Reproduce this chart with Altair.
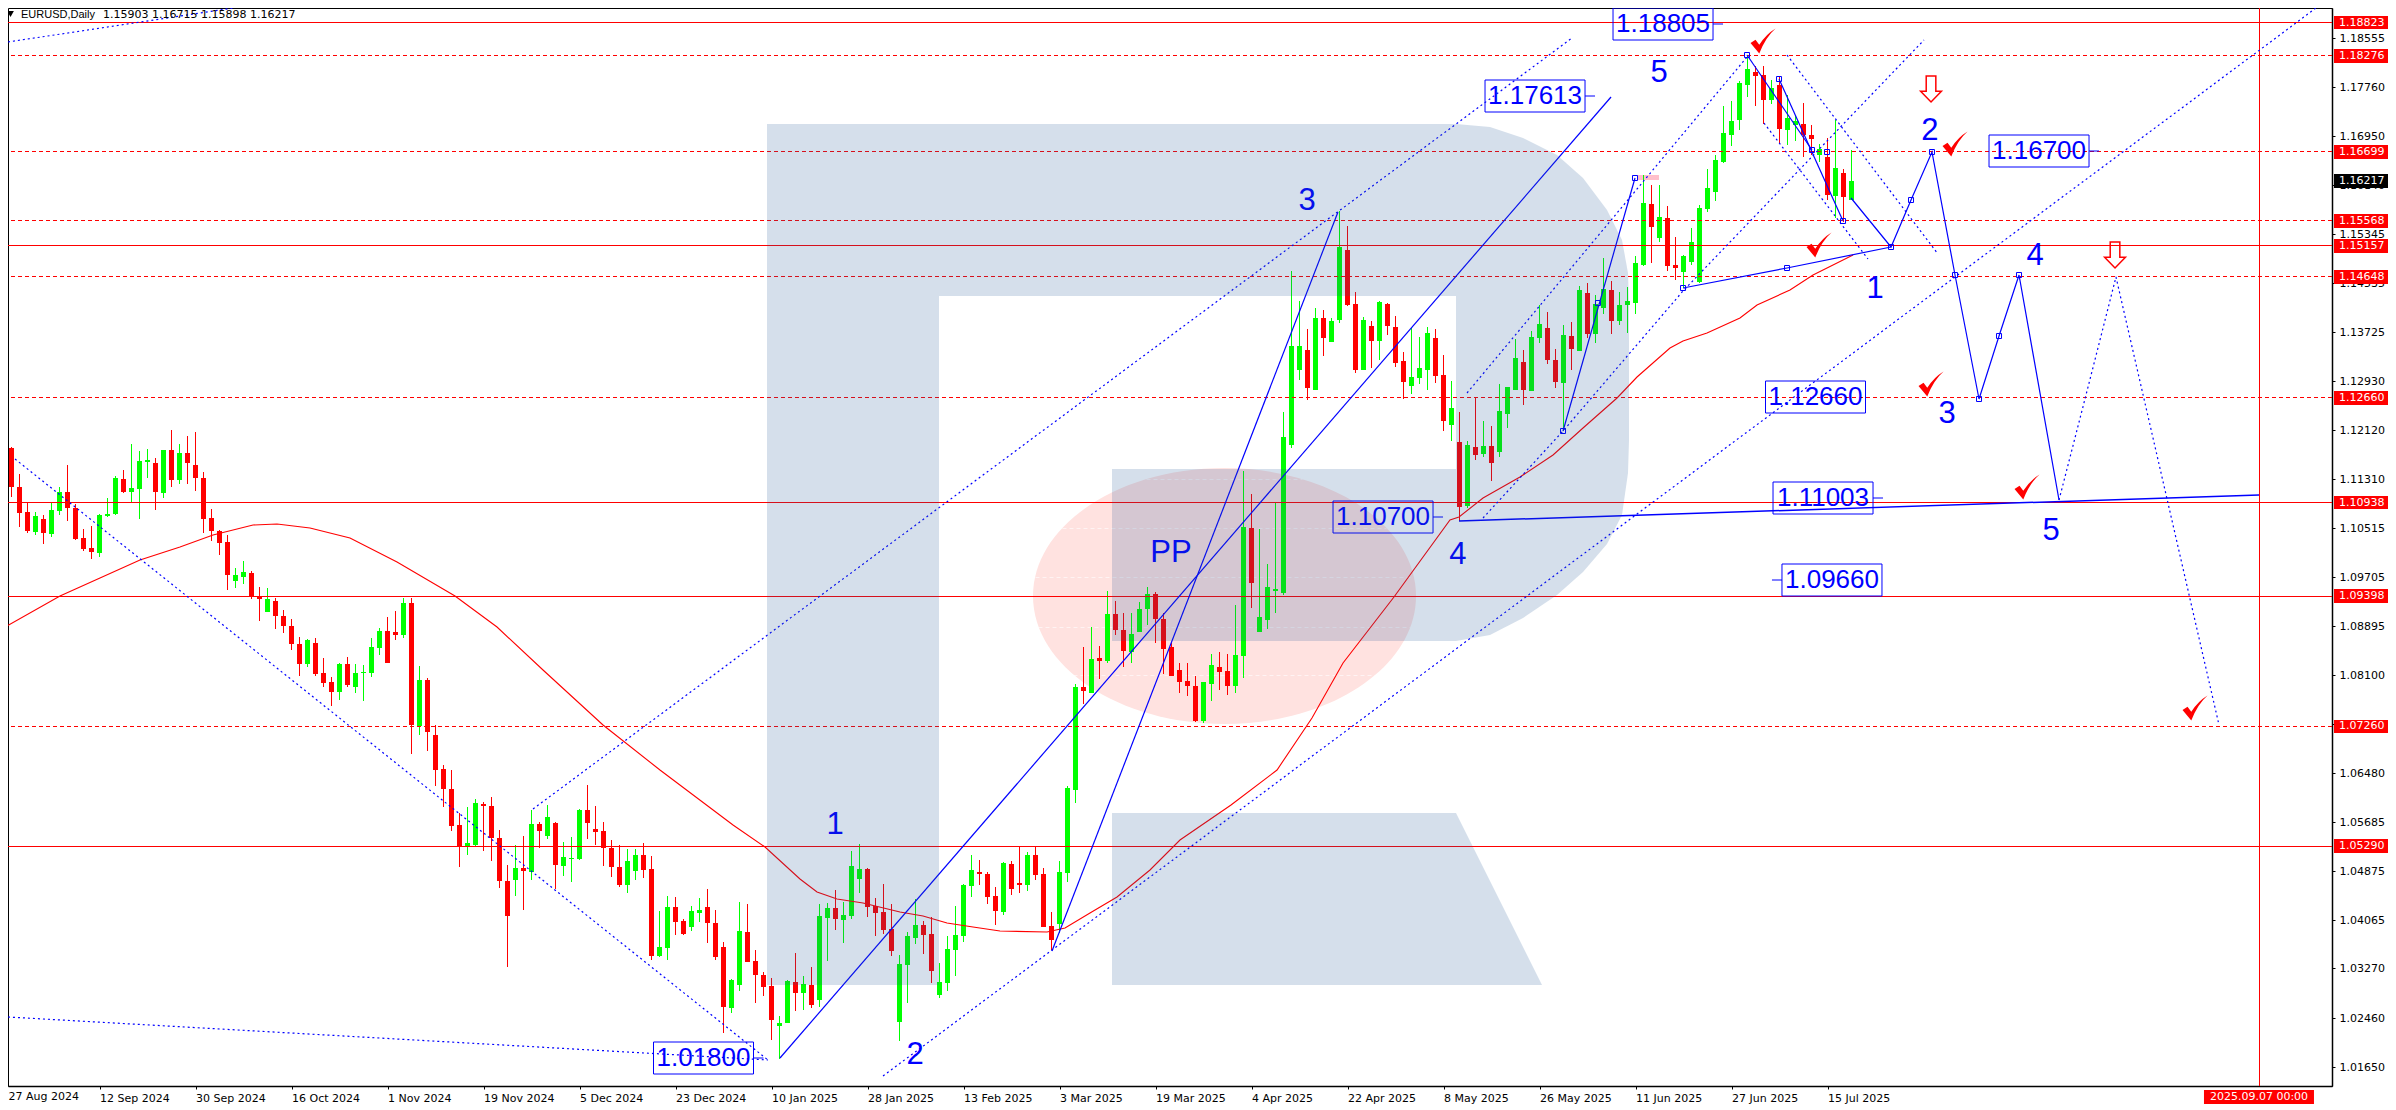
import altair as alt
import pandas as pd

# ---- candles, prices in 1/100000 ----
highs = [111899,111844,111395,110924,110765,110721,110935,111176,111543,110902,
110491,110541,110738,111001,111362,111461,111888,111767,111806,111658,
111789,112118,111888,112019,112085,111428,110820,110475,110393,109851,
109966,109801,109538,109522,109358,109160,109013,108717,108684,108700,
108372,108060,108290,108388,108273,108257,108700,108865,109045,109144,
109358,109358,108240,108043,107271,106614,106531,105825,105923,106055,
106006,106088,105546,104970,105299,105447,105874,105677,105956,105677,
105348,105431,105891,106285,105940,105677,105381,105299,105233,105233,
105332,105118,104215,104461,104445,104083,104297,104428,104576,104231,
103705,103097,104362,104330,103574,103212,103114,102489,103081,103525,
103146,103294,104329,104346,104559,104362,105200,105315,104921,104428,
104658,104329,103491,103869,104411,104050,104116,103360,103803,104296,
104658,105134,105052,104855,104608,105019,105036,105266,105184,105266,
104921,104198,105036,106268,107944,108552,108881,108569,109472,109308,
109111,109111,109292,109538,109456,109111,108618,108289,108289,108076,
107977,108437,108470,108437,109242,111444,111066,110491,109916,110935,
112413,114730,114237,113777,114122,114089,113958,115716,115470,114385,
113974,113909,114237,114204,113991,113399,113794,113646,113810,113777,
113350,112923,112413,111937,112660,112266,112183,112873,112824,113613,
113432,113744,114172,114057,113449,113843,113892,114484,114533,114336,
114944,114566,114385,114467,114977,116308,116143,116143,115798,115289,
114993,115437,115815,116406,116636,117441,117523,117852,118279,118099,
118099,117869,117918,117622,117293,117491,117129,116817,116916,117211,
116406,116715]

lows = [111488,111023,110530,110420,110398,110250,110365,110727,110628,110311,
110135,110004,110037,110683,110727,111083,110935,110661,111329,110804,
111001,111187,111231,111231,111116,110426,110294,110064,109489,109522,
109588,109341,108980,109128,108848,108782,108503,108076,108224,108076,
107895,107583,107682,107895,107797,107665,108060,108421,108290,108668,
108700,106794,107107,106844,106268,105923,105529,104938,105135,105272,
105201,105036,104593,103295,104461,104231,104724,105250,105398,104576,
104790,104691,105053,105398,105299,104954,104773,104609,104510,104724,
104757,103410,103459,103410,103820,103820,103886,104034,103689,103410,
102210,102539,102900,103377,102703,102818,102095,101783,102374,102571,
102587,102620,102637,103393,103902,103688,104083,104510,104116,103803,
103836,103475,102078,102702,103672,103508,103031,102785,102900,103146,
103705,104444,104641,104329,103984,104148,104477,104510,104543,104724,
103951,103573,103853,104691,105989,107616,108026,108026,108289,108749,
108224,108289,108799,108914,108618,108108,108076,107796,107747,107320,
107303,107665,107846,107763,107796,108042,109193,108799,108848,109111,
109407,111822,112939,112611,112775,113334,113564,113876,114155,113054,
113104,113136,113268,113679,113153,112627,112709,112873,112775,112890,
112101,111937,110622,110836,111625,111674,111280,111674,112151,112775,
112528,112758,113547,113202,112808,112101,113104,113416,113629,113547,
114024,113695,113843,113711,114024,114812,114862,115207,114730,114582,
114451,114829,114533,115700,115880,116505,116784,117047,117589,117441,
117146,117474,116833,116801,116866,116603,116636,116521,115897,115601,
115535,115898]

opens = [111581,111822,111176,110765,110448,110656,110415,110793,111099,110842,
110343,110179,110097,110705,110743,111313,111099,111154,111598,111576,
111083,111789,111296,111740,111543,111329,110672,110458,110278,109637,
109703,109768,109390,109128,109308,109062,108898,108602,108273,108618,
108125,107977,107813,108273,107895,108125,108125,108536,108815,108799,
108750,109270,107254,108010,107107,106548,106219,105628,105272,105299,
105973,105940,105414,104708,104724,104921,104855,105644,105447,105661,
104954,105069,105069,105874,105562,105529,105250,104938,104642,104872,
105135,104905,103475,103607,104280,104050,103952,104182,104280,104018,
103623,102621,103000,103870,103393,103163,102982,102325,102374,103048,
102867,102998,102752,104099,104263,104066,104132,104740,104904,104296,
104198,103918,102390,103327,103771,103984,103836,102834,103031,103573,
103803,104625,104855,104822,104461,104198,104986,104674,104641,105134,
104822,103968,104001,104839,106203,107895,107796,108371,108322,109094,
108831,108470,108799,109177,109423,109012,108552,108174,107993,107911,
107336,107944,108224,108158,107911,108404,110507,108799,108996,109472,
109439,111871,113104,113432,112775,113958,113564,113925,115075,114188,
113104,113826,113580,114188,113810,113251,112841,112972,113104,113629,
113021,112200,111920,110869,111838,111723,111855,111756,112381,112775,
113235,112758,113629,113794,113268,112890,113662,113416,114369,113695,
114122,114418,113909,114172,114204,114829,115831,115272,115601,114829,
114714,114878,114549,115749,116028,116521,116965,117211,117786,118000,
117951,117540,117786,117047,117129,117146,116965,116636,116603,115963,
116340,115903]

closes = [111833,111176,110760,110464,110705,110431,110804,111099,110842,110333,
110168,110113,110716,110738,111329,111099,111165,111609,111625,111105,
111789,111296,111740,111576,111329,110656,110458,110261,109736,109736,
109785,109374,109341,109341,109062,108898,108602,108273,108668,108109,
107961,107813,108273,107928,108125,108142,108552,108815,108290,108750,
109270,107271,108010,107156,106531,106219,105611,105277,105332,105989,
105940,105414,104708,104132,104921,104872,105644,105529,105759,104970,
105102,105085,105874,105661,105513,105250,104938,104642,105036,105135,
104888,103475,103623,104280,104034,103837,104215,104231,104018,103459,
102637,103081,103886,103377,103163,102966,102424,102374,103065,102867,
103015,102670,104132,104263,104083,104148,104954,104904,104280,104181,
103902,103557,103343,103803,103984,103820,103228,103048,103590,103820,
104641,104888,104822,104444,104214,105003,104576,104641,105134,104806,
103951,103738,104855,106235,107895,107829,108355,108322,109094,108831,
108486,108766,109177,109423,109012,108519,108076,107977,107911,107336,
107977,108256,108141,107911,108421,110524,109604,109045,109538,109505,
112003,113498,113498,112808,113958,113629,113909,115125,114172,113104,
113925,113580,114221,113826,113219,112906,112989,113136,113711,113005,
112266,112479,110852,111871,111707,111855,111575,112430,112824,113301,
112775,113646,113859,113268,112906,113679,113449,114418,113695,114188,
114434,113909,114172,114237,114862,115848,115453,115617,114812,114779,
114977,115207,115765,116094,116554,116998,117195,117819,118049,117934,
117540,117737,117063,117244,117195,116965,116899,116735,115979,116423,
115946,116217]

# ---- moving average ----
ma_bar = [0,7.06,12.06,17.06,22.06,26.19,31.19,34.19,38.31,43.31,49.19,56.44,61.69,67.44,74.94,82.06,91.19,95.19,
99.56,101.69,104.19,107.44,112.06,114.94,117.94,121.19,124.56,130.44,132.69,135.81,139.19,143.31,147.06,153.44,
159.19,163.56,167.44,173.81,180.81,181.94,184.94,189.56,193.69,197.44,201.69,204.19,208.31,209.94,212.94,217.06,
219.19,223.31,226.19,231.19]
ma_val = [108864,109391,109686,109982,110195,110392,110557,110573,110507,110343,109949,109390,108881,108174,107271,
106531,105627,105266,104740,104527,104412,104346,104198,104132,104017,103951,103886,103869,103935,104182,104444,
104888,105381,105956,106531,107386,108289,109374,110639,110688,111000,111345,111707,112151,112643,112989,113465,
113580,113712,113958,114172,114418,114664,114993]

# ---- axes ----
y_ticks = [1.18555,1.17760,1.16950,1.16140,1.15345,1.14535,1.13725,1.12930,1.12120,1.11310,1.10515,1.09705,
           1.08895,1.08100,1.07290,1.06480,1.05685,1.04875,1.04065,1.03270,1.02460,1.01650]
first_date = "27 Aug 2024"
x_labels = ["27 Aug 2024","12 Sep 2024","30 Sep 2024","16 Oct 2024","1 Nov 2024","19 Nov 2024","5 Dec 2024",
            "23 Dec 2024","10 Jan 2025","28 Jan 2025","13 Feb 2025","3 Mar 2025","19 Mar 2025","4 Apr 2025",
            "22 Apr 2025","8 May 2025","26 May 2025","11 Jun 2025","27 Jun 2025","15 Jul 2025"]

# ---- levels ----
solid_levels = [1.18823,1.15157,1.10938,1.09398,1.05290]
dashed_levels = [1.18276,1.16699,1.15568,1.14648,1.12660,1.07260]

# ---- trend lines: name, bars, prices ----
dotted_lines = {
    "a": ([0.56,95.56],[102473,101766]),
    "b": ([1.44,95.56],[111641,101766]),
    "c": ([66.19,196.06],[105890,118559]),
    "d": ([109.94,289.06],[101503,119052]),
    "h1": ([182.94,217.94],[112726,118246]),
    "h2": ([184.94,194.94,209.94,240.06],[110672,112101,114402,118526]),
    "d1": ([222.94,241.81],[118279,115010]),
    "d2": ([220.06,233.06],[117162,114927]),
    "tl": ([0.56,28.69],[118496,119052]),
    "p6": ([256.94,260.44,264.06,276.94],[110967,112758,114632,107271]),
}
solid_lines = {
    "e": ([97.06,200.94],[101799,117589]),
    "f": ([131.06,166.81],[103557,115700]),
    "p1": ([194.94,203.94],[112101,116258]),
    "p2": ([209.94,222.94,235.94],[114451,114779,115125]),
    "p3": ([217.94,226.06],[118279,116718]),
    "p4": ([221.94,229.94],[117885,115552]),
    "p5": ([230.94,235.94,238.44,241.06,243.94,246.94,249.44,251.94,256.94],
           [115930,115125,115897,116685,114664,112627,113662,114664,110967]),
}
base_line = ([181.94,281.94],[110622,111050])

anchor_bar = [194.94,203.94,209.94,222.94,235.94,217.94,221.94,226.06,227.94,229.94,238.44,241.06,243.94,246.94,249.44,251.94,199.31]
anchor_val = [112101,116258,114451,114779,115125,118279,117885,116718,116685,115552,115897,116685,114664,112627,113662,114664,114204]

# ---- wave labels ----
wave_text = ["1","2","3","PP","4","5","1","2","3","4","5"]
wave_bar = [103.94,113.94,162.94,145.94,181.81,206.94,233.94,240.81,242.94,253.94,255.94]
wave_val = [105627,101848,115880,110097,110064,117984,114434,117031,112381,114977,110458]

# ---- boxed targets ----
box_text = ["1.18805","1.17613","1.16700","1.11003","1.10700","1.01800","1.12660","1.09660"]
box_bar = [207.44,191.44,254.44,227.44,172.44,87.5,226.5,228.56]
box_val = [118797,117606,116702,111000,110688,101791,112660,109653]
box_kind = ["right","right","right","right","right","right","none","left"]

# ---- check marks and arrows ----
check_bar = [219.94,243.94,226.94,240.94,252.94,273.94]
check_val = [118509,116817,115157,112874,111181,107550]
arrow_bar = [240.94,263.94]
arrow_val = [117721,114993]

# ---- faint chords across the pivot ellipse ----
chord_val = [111312,110507,109702,108881,108092]
chord_from = [142.875,132.375,129,129.375,133.75]
chord_to = [162.375,172.875,176.25,175.875,171.5]

# ---- watermark pieces: bar, upper, lower ----
logo = {
    "stem": ([95.4375,116.9375],[117146,117146],[103000,103000]),
    "top": ([116.9375,181.5625],[117146,117146],[114319,114319]),
    "mid": ([138.5625,181.5625],[111477,111477],[108651,108651]),
    "bowl": ([181.5625,185.8125,189.9375,194.1875,197.4375,200.4375,202.3125,203.0625,203.1875],
             [117146,117096,116916,116636,116258,115733,115240,114697,114139],
             [108651,108749,109029,109407,109785,110245,110721,111411,111953]),
    "leg": ([138.5625,181.5625,192.3125],[105825,105825,103000],[103000,103000,103000]),
}

# ---- price labels on the axis ----
red_labels = [1.18823,1.18276,1.16699,1.15568,1.15157,1.14648,1.12660,1.10938,1.09398,1.07260,1.05290]
last_price = 1.16217
header_name = "EURUSD,Daily"
header_quotes = "1.15903 1.16715 1.15898 1.16217"
cross_date = "2025.09.07 00:00"

UNIT = 100000.0
BLUE = "#0000FF"
RED = "#FF0000"
SANS = "Liberation Sans"
TERM = "DejaVu Sans"

x_scale = alt.Scale(domain=[0.5625, 291.0625], nice=False, zero=False)
y_scale = alt.Scale(domain=[1.01339, 1.19052], nice=False, zero=False, round=True)
x_axis = alt.Axis(values=[12 * k for k in range(1, len(x_labels))],
                  labelExpr="[" + ",".join(f"'{t}'" for t in x_labels) + "][round(datum.value/12)]",
                  labelAlign="left", labelBaseline="top", labelFont=TERM, labelFontSize=11, labelColor="#000000",
                  labelPadding=3, labelOverlap=False, labelBound=False, labelFlush=False,
                  tickSize=3, tickColor="#000000", domainColor="#000000", domainWidth=1.5, grid=False, title=None)
y_axis = alt.Axis(values=y_ticks, format=".5f", orient="right", labelFont=TERM, labelFontSize=11,
                  labelColor="#000000", labelPadding=4, labelOverlap=False, labelBound=False, labelFlush=False,
                  tickSize=3, tickColor="#000000", domainColor="#000000", domainWidth=1.5, grid=False, title=None)


def fx(field="i"):
    return alt.X(f"{field}:Q", scale=x_scale, axis=x_axis, title=None)


def fy(field="p"):
    return alt.Y(f"{field}:Q", scale=y_scale, axis=y_axis, title=None)


X = fx()
Y = fy()
Y2 = alt.Y2("p2:Q")

candles = pd.DataFrame({
    "i": range(len(closes)),
    "p": [v / UNIT for v in highs],
    "p2": [v / UNIT for v in lows],
    "o": [v / UNIT for v in opens],
    "c": [v / UNIT for v in closes],
    "col": ["#00FF00" if c >= o else RED for o, c in zip(opens, closes)],
})
candles["l"] = candles["i"] - 0.3125
candles["r"] = candles["i"] + 0.3125

wicks = alt.Chart(candles).mark_rule(strokeWidth=1).encode(
    x=X, y=Y, y2=Y2, color=alt.Color("col:N", scale=None))
bodies = alt.Chart(candles).mark_rect().encode(
    x=fx("l"), x2=alt.X2("r:Q"), y=fy("o"), y2=alt.Y2("c:Q"), color=alt.Color("col:N", scale=None))

ellipse = alt.Chart(pd.DataFrame({"i": [152.625], "p": [1.09390]})).mark_point(
    shape="M-1,0A1,0.668,0,1,1,1,0A1,0.668,0,1,1,-1,0Z", size=146689, filled=True,
    color="#FFE2E0", opacity=1).encode(x=X, y=Y)
chords = alt.Chart(pd.DataFrame({"i": chord_from, "j": chord_to, "p": [v / UNIT for v in chord_val]})).mark_rule(
    color="#FFFFFF", strokeWidth=1, strokeDash=[4, 3], opacity=0.6, yOffset=0.5).encode(
    x=X, x2=alt.X2("j:Q"), y=Y)
tag = alt.Chart(pd.DataFrame({"i": [204.19], "j": [206.94], "p": [1.16307], "p2": [1.16225]})).mark_rect(
    color="#FFC0CB").encode(x=X, x2=alt.X2("j:Q"), y=Y, y2=Y2)

ma = alt.Chart(pd.DataFrame({"i": ma_bar, "p": [v / UNIT for v in ma_val]})).mark_line(
    color=RED, strokeWidth=1.1).encode(x=X, y=Y)

solid_rules = alt.Chart(pd.DataFrame({"p": solid_levels})).mark_rule(
    color=RED, strokeWidth=1, yOffset=0.5).encode(y=Y)
dashed_rules = alt.Chart(pd.DataFrame({"p": dashed_levels})).mark_rule(
    color=RED, strokeWidth=1, strokeDash=[4, 3], yOffset=0.5).encode(y=Y)
cross = alt.Chart(pd.DataFrame({"i": [282]})).mark_rule(color=RED, strokeWidth=1).encode(x=X)


def line_frame(lines):
    rows = []
    for name, (bars, vals) in lines.items():
        rows += [{"n": name, "i": b, "p": v / UNIT} for b, v in zip(bars, vals)]
    return pd.DataFrame(rows)


dotted = alt.Chart(line_frame(dotted_lines)).mark_line(
    color=BLUE, strokeWidth=1.2, strokeDash=[2, 3]).encode(x=X, y=Y, detail="n:N")
solid = alt.Chart(line_frame(solid_lines)).mark_line(
    color=BLUE, strokeWidth=1.2).encode(x=X, y=Y, detail="n:N")
base = alt.Chart(pd.DataFrame({"i": base_line[0], "p": [v / UNIT for v in base_line[1]]})).mark_line(
    color=BLUE, strokeWidth=1.5).encode(x=X, y=Y)
anchors = alt.Chart(pd.DataFrame({"i": anchor_bar, "p": [v / UNIT for v in anchor_val]})).mark_square(
    size=25, filled=False, color=BLUE, opacity=1, strokeWidth=1).encode(x=X, y=Y)

waves = alt.Chart(pd.DataFrame({"i": wave_bar, "p": [v / UNIT for v in wave_val], "t": wave_text})).mark_text(
    font=SANS, fontSize=31, color=BLUE, baseline="middle", align="center").encode(x=X, y=Y, text="t:N")

BOX = "M-1,-0.32L1,-0.32L1,0.32L-1,0.32Z"
box_shapes = {"none": BOX, "right": BOX + "M1,0L1.2,0", "left": BOX + "M-1,0L-1.2,0"}
box_frame = pd.DataFrame({"i": box_bar, "p": [v / UNIT for v in box_val], "t": box_text, "k": box_kind})
box_layers = [
    alt.Chart(box_frame[box_frame["k"] == kind]).mark_point(
        shape=path, size=10000, filled=False, color=BLUE, opacity=1, strokeWidth=1).encode(x=X, y=Y)
    for kind, path in box_shapes.items()
]
box_texts = alt.Chart(box_frame).mark_text(
    font=SANS, fontSize=26, color=BLUE, baseline="middle", align="center").encode(x=X, y=Y, text="t:N")

checks = alt.Chart(pd.DataFrame({"i": check_bar, "p": [v / UNIT for v in check_val]})).mark_point(
    shape="M-1,0.15L-0.6,-0.1L-0.3,0.3Q0.25,-0.55,1,-1Q0.2,-0.3,-0.3,1Z", size=625, filled=True,
    color=RED, opacity=1).encode(x=X, y=Y)
arrows = alt.Chart(pd.DataFrame({"i": arrow_bar, "p": [v / UNIT for v in arrow_val]})).mark_point(
    shape="M-0.37,-1L0.37,-1L0.37,0.18L0.8,0.18L0,1L-0.8,0.18L-0.37,0.18Z", size=676, filled=False,
    color=RED, opacity=1, strokeWidth=1.5).encode(x=X, y=Y)

logo_rows = []
for name, (bars, tops, bots) in logo.items():
    logo_rows += [{"n": name, "i": b, "p": t / UNIT, "p2": u / UNIT} for b, t, u in zip(bars, tops, bots)]
watermark = alt.Chart(pd.DataFrame(logo_rows)).mark_area(color="#1E5496", opacity=0.19).encode(
    x=X, y=Y, y2=Y2, detail="n:N")

plate = pd.DataFrame({"p": red_labels + [last_price], "col": [RED] * len(red_labels) + ["#000000"]})
plate["t"] = plate["p"].map(lambda v: f"{v:.5f}")
plate["top"] = plate["p"] + 0.00100
plate["bot"] = plate["p"] - 0.00124
plate["tp"] = plate["p"] - 0.00012
plate["x0"] = 291.31
plate["x1"] = 298.31
plate["tx"] = 291.94
plates = alt.Chart(plate).mark_rect().encode(
    x=fx("x0"), x2=alt.X2("x1:Q"), y=fy("top"), y2=alt.Y2("bot:Q"), color=alt.Color("col:N", scale=None))
plate_text = alt.Chart(plate).mark_text(
    font=TERM, fontSize=11, color="#FFFFFF", align="left", baseline="middle").encode(
    x=fx("tx"), y=fy("tp"), text="t:N")

date_box = alt.Chart(pd.DataFrame({"a": [275.06], "b": [288.81], "p": [1.01273], "p2": [1.01049]})).mark_rect(
    color=RED).encode(x=fx("a"), x2=alt.X2("b:Q"), y=Y, y2=Y2)
date_text = alt.Chart(pd.DataFrame({"i": [281.94], "p": [1.01158], "t": [cross_date]})).mark_text(
    font=TERM, fontSize=11, color="#FFFFFF", align="center", baseline="middle").encode(x=X, y=Y, text="t:N")
first_label = alt.Chart(pd.DataFrame({"i": [0.625], "p": [1.01165], "t": [first_date]})).mark_text(
    font=TERM, fontSize=11, color="#000000", align="left", baseline="middle").encode(x=X, y=Y, text="t:N")

head_mark = alt.Chart(pd.DataFrame({"i": [0.875], "p": [1.18960]})).mark_point(
    shape="triangle-down", size=45, filled=True, color="#000000", opacity=1).encode(x=X, y=Y)
head_name = alt.Chart(pd.DataFrame({"i": [2.19], "p": [1.18945], "t": [header_name]})).mark_text(
    font=SANS, fontSize=11, color="#000000", align="left", baseline="middle").encode(x=X, y=Y, text="t:N")
head_quotes = alt.Chart(pd.DataFrame({"i": [12.44], "p": [1.18945], "t": [header_quotes]})).mark_text(
    font=TERM, fontSize=11, color="#000000", align="left", baseline="middle").encode(x=X, y=Y, text="t:N")

chart = alt.layer(
    ellipse, chords, tag, wicks, bodies, ma, solid_rules, dashed_rules, cross, dotted, solid, base, anchors,
    waves, *box_layers, box_texts, checks, arrows, watermark, plates, plate_text, date_box, date_text,
    first_label, head_mark, head_name, head_quotes,
).properties(
    width=2324, height=1078, background="#FFFFFF",
    padding={"left": 0, "top": 0, "right": 56, "bottom": 20},
    autosize=alt.AutoSizeParams(type="none"),
).configure_view(stroke="#000000", strokeWidth=1)

chart.save("out.html", embed_options={"renderer": "svg", "actions": False})
